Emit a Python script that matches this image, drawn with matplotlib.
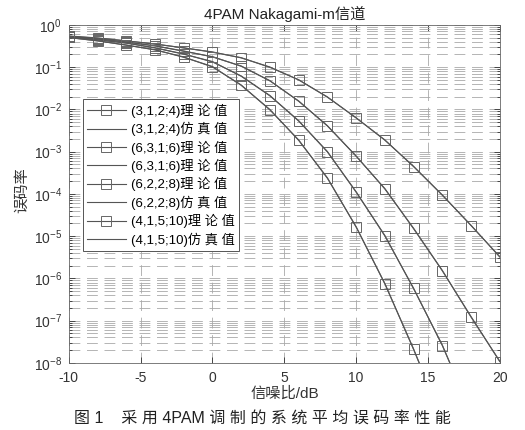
import numpy as np
import matplotlib
matplotlib.use("Agg")
from matplotlib import pyplot as plt

plt.rcParams['font.family'] = ['Liberation Sans', 'Noto Sans CJK SC']
plt.rcParams['mathtext.fontset'] = 'custom'
plt.rcParams['mathtext.rm'] = 'Liberation Sans'
plt.rcParams['axes.unicode_minus'] = False

# SNR points (dB)
snr = [-10, -8, -6, -4, -2, 0, 2, 4, 6, 8, 10, 12, 14, 16, 18, 20]

# theoretical SER for each (m parameters; L) case
ser_3124 = [0.549, 0.492, 0.418, 0.355, 0.285, 0.230, 0.166, 0.101, 0.0499, 0.0198,
            6.29e-3, 1.90e-3, 4.43e-4, 9.46e-5, 1.78e-5, 3.28e-6]
ser_6316 = [0.535, 0.466, 0.396, 0.318, 0.242, 0.175, 0.107, 0.0473, 0.0159, 4.07e-3,
            7.93e-4, 1.31e-4, 1.54e-5, 1.51e-6, 1.25e-7, 1.07e-8]
ser_6228 = [0.520, 0.442, 0.375, 0.285, 0.206, 0.133, 0.0621, 0.0209, 5.43e-3, 9.86e-4,
            1.13e-4, 1.01e-5, 5.86e-7, 2.57e-8, 6.9e-10, np.nan]
ser_41510 = [0.506, 0.418, 0.336, 0.256, 0.175, 0.101, 0.0380, 9.73e-3, 1.90e-3, 2.35e-4,
             1.68e-5, 7.41e-7, 2.14e-8, 4.5e-10, np.nan, np.nan]

# simulated SER
sim_3124 = [0.540, 0.487, 0.421, 0.351, 0.288, 0.226, 0.168, 0.099, 0.0505, 0.0195,
            6.35e-3, 1.87e-3, 4.50e-4, 9.30e-5, 1.81e-5, 3.20e-6]
sim_6316 = [0.528, 0.470, 0.391, 0.322, 0.238, 0.178, 0.105, 0.0480, 0.0156, 4.12e-3,
            7.80e-4, 1.34e-4, 1.50e-5, 1.55e-6, 1.21e-7, 1.10e-8]
sim_6228 = [0.515, 0.447, 0.370, 0.289, 0.203, 0.136, 0.0610, 0.0214, 5.30e-3, 1.01e-3,
            1.10e-4, 1.04e-5, 5.70e-7, 2.65e-8, 6.5e-10, np.nan]
sim_41510 = [0.500, 0.423, 0.331, 0.260, 0.171, 0.104, 0.0372, 9.95e-3, 1.85e-3, 2.41e-4,
             1.64e-5, 7.60e-7, 2.08e-8, 4.7e-10, np.nan, np.nan]

theory = [ser_3124, ser_6316, ser_6228, ser_41510]
sims = [sim_3124, sim_6316, sim_6228, sim_41510]
cases = ['(3,1,2;4)', '(6,3,1;6)', '(6,2,2;8)', '(4,1,5;10)']
sim_words = ['仿 真 值', '理 论 值', '仿 真 值', '仿 真 值']

fig = plt.figure(figsize=(5.25, 4.3), dpi=100)
ax = fig.add_axes([0.131, 0.156, 0.821, 0.786])

grid_ls = (0, (13, 8))
ax.set_yscale('log')
ax.set_xlim(-10, 20)
ax.set_ylim(1e-8, 1)
ax.set_xticks([-10, -5, 0, 5, 10, 15, 20])
ax.grid(True, which='major', axis='both', color='#a8a8a8', linestyle=grid_ls, linewidth=0.6)
ax.grid(True, which='minor', axis='y', color='#a8a8a8', linestyle=grid_ls, linewidth=0.6)
ax.set_axisbelow(True)

for i in range(4):
    ax.plot(snr, theory[i], color='#555555', linewidth=0.8, marker='s', markersize=7,
            markerfacecolor='none', markeredgecolor='#666666', markeredgewidth=0.7,
            label=cases[i] + '理 论 值')
    ax.plot(snr, sims[i], color='#555555', linewidth=0.8,
            label=cases[i] + sim_words[i])

ax.tick_params(which='both', direction='in', top=True, right=True, labelsize=10,
               colors='#333333', width=0.6)
ax.tick_params(which='major', length=4)
ax.tick_params(which='minor', length=2)
ax.tick_params(axis='x', pad=6)
ax.tick_params(axis='y', pad=5)
for s in ax.spines.values():
    s.set_color('#666666')
    s.set_linewidth(0.6)

leg = ax.legend(loc='upper left', bbox_to_anchor=(0.017, 0.800), fontsize=9.5,
                handlelength=2.9, labelspacing=0.32, borderpad=0.35, handletextpad=0.4,
                fancybox=False, framealpha=1, edgecolor='#555555')
leg.get_frame().set_linewidth(0.7)

ax.set_title('4PAM Nakagami-m信道', fontsize=11, pad=4, color='#222222')
fig.text(0.542, 0.084, '信噪比/dB', ha='center', va='center', fontsize=11, color='#333333')
fig.text(0.042, 0.558, '误码率', ha='center', va='center', rotation=90, fontsize=11,
         color='#333333')
fig.text(0.5, 0.028, '图 1    采 用 4PAM 调 制 的 系 统 平 均 误 码 率 性 能',
         ha='center', va='center', fontsize=11.5, color='#222222')

fig.savefig('out.png', dpi=100)
